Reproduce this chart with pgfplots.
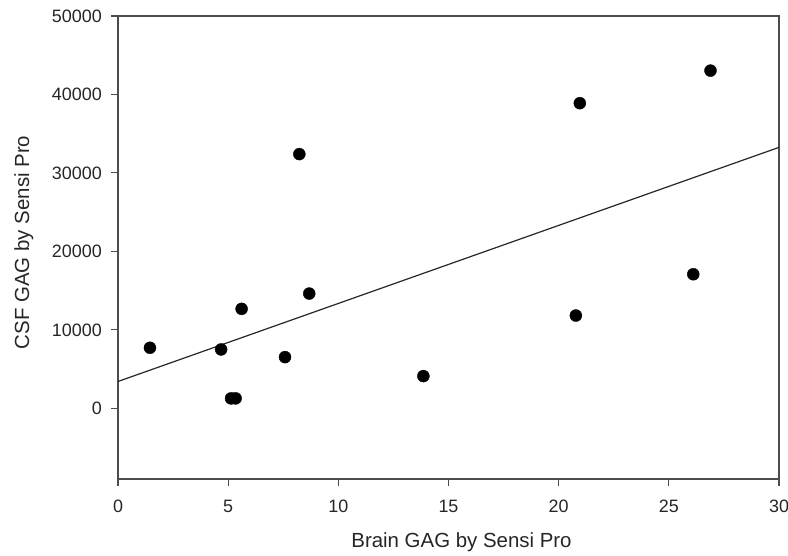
\documentclass[border=0pt]{standalone}
\usepackage{pgfplots}
\pgfplotsset{compat=1.18}
\usepackage{fontspec}
\setmainfont{Liberation Sans}
\begin{document}
\begin{tikzpicture}
\begin{axis}[
  name=ax,
  scale only axis,
  width=661bp, height=463bp,
  xmin=0, xmax=30, ymin=-9000, ymax=50000,
  xtick={0,5,10,15,20,25,30},
  ytick={0,10000,20000,30000,40000,50000},
  scaled y ticks=false,
  /pgf/number format/assume math mode=true,
  yticklabel={\pgfmathprintnumber[fixed,1000 sep={}]{\tick}},
  tick align=outside,
  xtick pos=bottom, ytick pos=left,
  major tick length=7bp,
  axis line style={draw=black!70, line width=1.2bp},
  tick style={draw=black!70, line width=1.1bp},
  ticklabel style={font=\fontsize{18}{21}\selectfont, text=black!85},
  xticklabel style={inner sep=0pt, anchor=north, yshift=-14bp},
  yticklabel style={inner sep=0pt, anchor=east, xshift=-9bp},
  xlabel={Brain GAG by Sensi Pro},
  ylabel={CSF GAG by Sensi Pro},
  label style={font=\fontsize{20.5}{24}\selectfont, text=black!85, inner sep=0pt},
  xlabel style={at={(axis description cs:0.5197,-0.149)}, anchor=base},
  ylabel style={at={(axis description cs:-0.1346,0.511)}, anchor=base, rotate=0},
  clip=false,
]
\addplot[only marks, mark=*, mark size=6bp, mark options={fill=black, draw=black}]
coordinates {
(1.45,7720) (4.68,7510) (5.13,1270) (5.34,1270) (5.61,12680) (7.58,6530)
(8.23,32400) (8.68,14630) (13.86,4110) (20.78,11830) (20.96,38890)
(26.11,17090) (26.89,43040)
};
\addplot[draw=black!85, line width=1.2bp] coordinates {(0,3426) (30,33258)};
\end{axis}
\pgfresetboundingbox
\path ([shift={(-118bp,-77bp)}]ax.south west) rectangle ([shift={(9bp,16bp)}]ax.north east);
\end{tikzpicture}
\end{document}
